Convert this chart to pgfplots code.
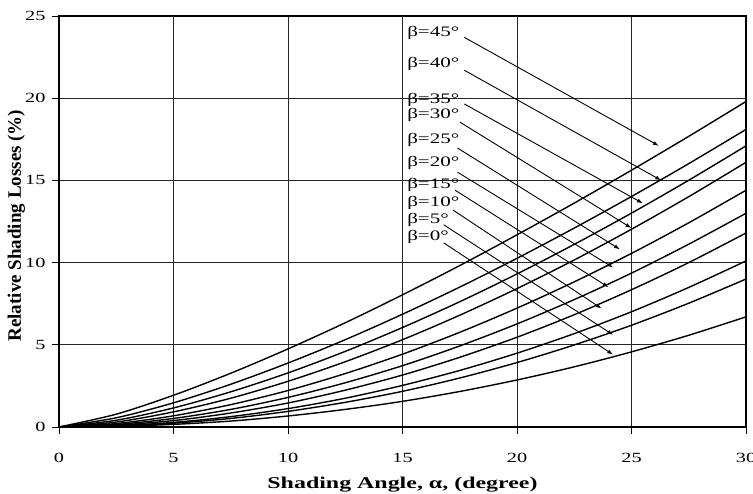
\documentclass[border=0pt]{standalone}
\usepackage{pgfplots}
\pgfplotsset{compat=1.18}
\usepackage{pgfplotstable}
\usepackage{graphicx}
\usepackage{fontspec}
\setmainfont{Liberation Serif}
\usetikzlibrary{arrows.meta}
\newcommand\wide[1]{\scalebox{1.45}[1]{#1}}

\pgfplotstableread{
x    b0   b5   b10  b15   b20   b25   b30   b35   b40   b45
0    0    0    0    0     0     0     0     0     0     0
2.5  0.04 0.06 0.07 0.11  0.15  0.21  0.30  0.41  0.56  0.78
5    0.16 0.23 0.28 0.39  0.52  0.68  0.92  1.16  1.47  1.93
7.5  0.36 0.52 0.63 0.85  1.07  1.36  1.75  2.14  2.60  3.27
10   0.67 0.95 1.12 1.46  1.80  2.22  2.78  3.29  3.89  4.75
12.5 1.07 1.50 1.75 2.24  2.69  3.25  3.97  4.60  5.31  6.34
15   1.56 2.17 2.53 3.16  3.73  4.43  5.31  6.05  6.86  8.04
17.5 2.16 2.98 3.44 4.24  4.93  5.76  6.80  7.62  8.51  9.82
20   2.86 3.92 4.49 5.46  6.27  7.23  8.42  9.31  10.26 11.69
22.5 3.66 4.99 5.68 6.83  7.75  8.83  10.16 11.11 12.10 13.62
25   4.57 6.19 7.01 8.35  9.36  10.56 12.03 13.01 14.02 15.62
27.5 5.58 7.53 8.49 10.00 11.12 12.42 14.01 15.01 16.02 17.68
30   6.7  9.0  10.1 11.8  13.0  14.4  16.1  17.1  18.1  19.8
}\data

\pgfplotsset{curve/.style={black, line width=1.4pt, smooth, no markers}}

\begin{document}
\begin{tikzpicture}
\begin{axis}[
  scale only axis,
  width=687pt, height=411pt,
  xmin=0, xmax=30, ymin=0, ymax=25,
  xtick={0,5,...,30}, ytick={0,5,...,25},
  axis line style={black, line width=1.1pt},
  grid=major,
  major grid style={black!85, line width=0.7pt},
  tick align=outside,
  tick pos=left,
  major tick length=7pt,
  tick style={black, line width=0.8pt},
  /pgf/number format/assume math mode=true,
  ticklabel style={font=\fontsize{14}{16}\selectfont},
  xticklabel={\wide{\pgfmathprintnumber{\tick}}},
  yticklabel={\wide{\pgfmathprintnumber{\tick}}},
  xticklabel shift=16pt,
  yticklabel shift=3pt,
  xlabel={\wide{\textbf{Shading Angle, α, (degree)}}},
  ylabel={\textbf{Relative Shading Losses (\%)}},
  xlabel style={at={(axis description cs:0.5,-0.141)}, anchor=center, font=\fontsize{16.5}{18}\selectfont},
  ylabel style={at={(axis description cs:-0.062,0.49)}, anchor=center, font=\fontsize{19}{21}\selectfont},
  clip=false,
]
\addplot[curve] table[x=x, y=b0] {\data};
\addplot[curve] table[x=x, y=b5] {\data};
\addplot[curve] table[x=x, y=b10] {\data};
\addplot[curve] table[x=x, y=b15] {\data};
\addplot[curve] table[x=x, y=b20] {\data};
\addplot[curve] table[x=x, y=b25] {\data};
\addplot[curve] table[x=x, y=b30] {\data};
\addplot[curve] table[x=x, y=b35] {\data};
\addplot[curve] table[x=x, y=b40] {\data};
\addplot[curve] table[x=x, y=b45] {\data};

% labels
\begin{scope}[every node/.style={anchor=west, inner sep=0pt, font=\fontsize{14.5}{16}\selectfont}]
\node at (axis cs:15.2,23.97) {\wide{β=45°}};
\node at (axis cs:15.2,22.1) {\wide{β=40°}};
\node at (axis cs:15.2,19.9) {\wide{β=35°}};
\node at (axis cs:15.2,19.0) {\wide{β=30°}};
\node at (axis cs:15.2,17.45) {\wide{β=25°}};
\node at (axis cs:15.2,16.06) {\wide{β=20°}};
\node at (axis cs:15.2,14.7) {\wide{β=15°}};
\node at (axis cs:15.2,13.6) {\wide{β=10°}};
\node at (axis cs:15.2,12.6) {\wide{β=5°}};
\node at (axis cs:15.2,11.55) {\wide{β=0°}};
\end{scope}

% arrows
\begin{scope}[black, line width=0.9pt, -{Latex[length=6pt,width=4pt]}]
\draw (axis cs:17.7,23.7) -- (axis cs:26.2,17.1);
\draw (axis cs:17.7,21.7) -- (axis cs:26.3,15.0);
\draw (axis cs:17.7,19.65) -- (axis cs:25.5,13.6);
\draw (axis cs:17.5,18.55) -- (axis cs:25.0,12.1);
\draw (axis cs:17.4,16.97) -- (axis cs:24.5,10.8);
\draw (axis cs:17.4,15.5) -- (axis cs:24.2,9.7);
\draw (axis cs:17.3,14.4) -- (axis cs:24.0,8.5);
\draw (axis cs:17.2,13.2) -- (axis cs:23.7,7.2);
\draw (axis cs:16.8,12.3) -- (axis cs:24.2,5.6);
\draw (axis cs:16.8,11.2) -- (axis cs:24.2,4.4);
\end{scope}
\end{axis}
\pgfresetboundingbox
\path (current axis.south west) ++(-59pt,-67pt) rectangle ++(753pt,494pt);
\end{tikzpicture}
\end{document}
